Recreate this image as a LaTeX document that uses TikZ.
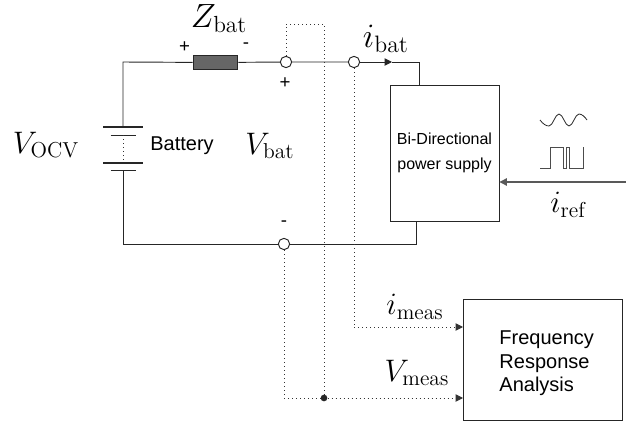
\documentclass[tikz,border=0pt]{standalone}
\usepackage{amsmath,amssymb}
\usepackage{fontspec}
\setsansfont{Liberation Sans}
\usetikzlibrary{calc}
\usetikzlibrary{arrows.meta}
\tikzset{
	wire/.style={line width=0.7pt, black!85},
	probe/.style={line width=0.7pt, black!80, dash pattern=on 0.7pt off 2.3pt},
	terminal/.style={circle, draw=black!85, fill=white, line width=0.7pt, inner sep=0pt, minimum size=8.5pt},
	unit/.style={draw=black!85, line width=0.7pt, fill=white, font=\sffamily, align=center, inner sep=0pt},
	tip/.style={-{Triangle[length=5.5pt,width=5.5pt]}},
	mathlabel/.style={font=\LARGE, scale=1.35, inner sep=0pt},
	polarity/.style={font=\sffamily\fontsize{14}{16}\selectfont, inner sep=0pt}
}

\begin{document}
\begin{tikzpicture}[x=0.75pt,y=-0.75pt]
	\useasboundingbox (0,0) rectangle (626,421);

	\coordinate (TL) at (123,62);
	\coordinate (BL) at (123,244);
	\coordinate (TR) at (419.5,62);
	\coordinate (BR) at (416,244);
	\coordinate (PT) at (286,24);
	\coordinate (PR) at (324,24);
	\coordinate (VC) at (284,398);
	\coordinate (IC) at (354,327);
	\coordinate (IA) at (392,62);

	% Blocks
	\node[unit, minimum width=81.75pt, minimum height=102pt, font=\sffamily\fontsize{12}{18.7}\selectfont] (psu) at (444.5,153) {Bi-Directional\\power supply};
	\node[unit, anchor=north west, minimum width=119.25pt, minimum height=90.75pt, text width=65.25pt, align=left, font=\sffamily\fontsize{15}{17.6}\selectfont] (fra) at (463,299) {\rule{0pt}{15.2pt}Frequency\\Response\\Analysis};
	\node[draw=black!85, fill=black!60, line width=0.7pt, minimum width=33.5pt, minimum height=11pt, inner sep=0pt] (zbat) at (215.5,62.5) {};
	\node[terminal] (vp) at (286,62) {};
	\node[terminal] (ip) at (354,62) {};
	\node[terminal] (vm) at (284,244) {};
	\node[circle, fill=black!85, inner sep=0pt, minimum size=5pt] (jn) at (324,398) {};

	% Battery cells
	\coordinate (cellA) at (123,127);
	\coordinate (cellAb) at (123,135);
	\coordinate (cellB) at (123,163);
	\coordinate (cellBb) at (123,170);
	\draw[line width=2pt, black!85] ($(cellA)+(-20,0)$) -- ($(cellA)+(20,0)$);
	\draw[wire] ($(cellAb)+(-12.5,0)$) -- ($(cellAb)+(12.5,0)$);
	\draw[line width=2pt, black!85] ($(cellB)+(-20,0)$) -- ($(cellB)+(20,0)$);
	\draw[wire] ($(cellBb)+(-12.5,0)$) -- ($(cellBb)+(12.5,0)$);
	\draw[probe] (cellAb) -- (cellB);

	% Main loop
	\draw[wire] (cellA) -- (TL) -- (zbat) -- (vp) -- (ip);
	\draw[wire, tip] (ip) -- (IA);
	\draw[wire] (IA) -- (TR) -- (TR |- psu.north);
	\draw[wire] (cellBb) -- (BL) -- (vm) -- (BR) -- (BR |- psu.south);

	% Reference input
	\coordinate (refin) at (626,182);
	\draw[line width=0.9pt, black!65, tip] (refin) -- (refin -| psu.east);
	\draw[line width=0.6pt, black!85] (540,120) .. controls (543,124) and (546,126) .. (549,126) .. controls (553,126) and (555,114) .. (559,114) .. controls (563,114) and (565,126) .. (569,126) .. controls (573,126) and (575,114) .. (579,114) .. controls (582,114) and (585,117) .. (587,120);
	\draw[line width=0.7pt, black!70] (540,168) -- (550,168) -- (550,147) -- (563,147) -- (563,168) -- (566,168) -- (566,147) -- (569,147) -- (569,168) -- (583,168) -- (583,147);

	% Measurement lines
	\draw[probe] (vp) -- (PT) -- (PR) -- (jn);
	\draw[probe] (ip) -- (IC);
	\draw[probe] (vm) -- (VC) -- (jn);
	\draw[probe, tip] (IC) -- (fra.west |- IC);
	\draw[probe, tip] (jn) -- (fra.west |- jn);

	% Labels
	\node[mathlabel, scale=1.08] (zlab) at (219,19) {$Z_{\text{bat}}$};
	\node[mathlabel, scale=1.1] (ibatlab) at (386,39) {$i_{\text{bat}}$};
	\node[mathlabel] (ocvlab) at (46,145) {$V_{\text{OCV}}$};
	\node[mathlabel] (vbatlab) at (270,146) {$V_{\text{bat}}$};
	\node[font=\sffamily\fontsize{15}{18}\selectfont] (battlab) at (182,146) {Battery};
	\node[mathlabel] (ireflab) at (568,205) {$i_{\text{ref}}$};
	\node[mathlabel] (imeaslab) at (415,307) {$i_{\text{meas}}$};
	\node[mathlabel] (vmeaslab) at (417,373) {$V_{\text{meas}}$};

	% Polarity marks
	\node[polarity] (zp) at (184.5,47) {+};
	\node[polarity] (zm) at (246,46) {-};
	\node[polarity] (vplus) at (285,83) {+};
	\node[polarity] (vminus) at (284,224) {-};
\end{tikzpicture}
\end{document}
